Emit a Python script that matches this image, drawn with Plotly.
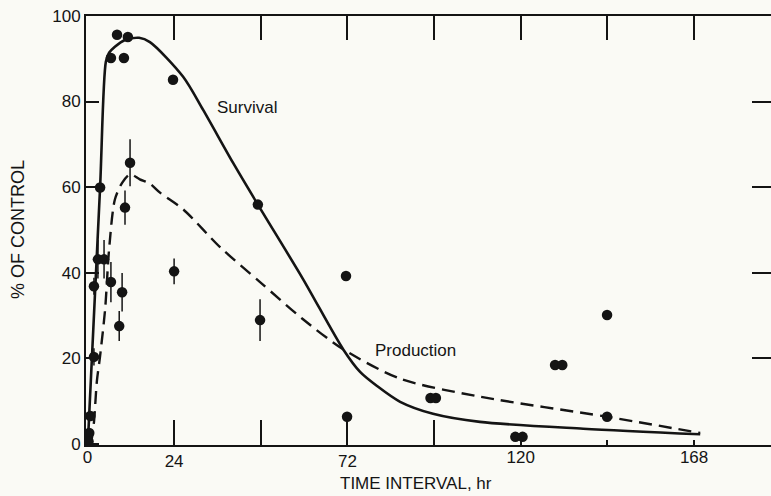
import plotly.graph_objects as go

# ---- data ----
survival_x = [0.1, 3.5, 5.1, 6.0, 7.6, 10.4, 14.3, 17.3, 26.5, 32.0, 40.3, 47.2, 59.7, 70.8, 75.5, 80.2, 86.6, 95.7, 108.7, 137.3, 169.7]
survival_y = [0.0, 59.9, 89.3, 91.4, 92.8, 94.4, 94.9, 93.9, 85.8, 78.1, 65.7, 55.9, 38.5, 22.1, 16.8, 13.5, 9.8, 7.0, 5.1, 3.5, 2.2]

production_x = [1.0, 1.8, 2.6, 3.5, 4.9, 6.0, 7.6, 9.6, 11.8, 14.5, 17.3, 20.1, 26.5, 36.8, 47.8, 59.7, 70.8, 86.6, 108.7, 143.9, 169.7]
production_y = [0.0, 5.0, 14.5, 20.5, 31.5, 45.5, 57.1, 61.0, 63.0, 61.8, 60.8, 58.7, 54.8, 45.9, 37.8, 29.1, 22.1, 15.2, 11.0, 6.3, 2.5]

points_x = [8.2, 11.2, 6.5, 10.1, 23.7, 47.2, 71.6, 71.9, 95.0, 96.5, 118.5, 120.5, 129.5, 131.5, 143.9, 143.9, 3.5, 0.8, 0.5, 0.3]
points_y = [95.6, 95.1, 90.2, 90.2, 85.1, 55.9, 39.2, 6.3, 10.7, 10.7, 1.6, 1.6, 18.4, 18.4, 30.1, 6.3, 59.9, 6.5, 2.5, 0.5]

errpts_x = [11.8, 10.4, 2.9, 4.6, 6.5, 1.8, 9.6, 8.8, 1.8, 24.0, 47.8]
errpts_y = [65.7, 55.2, 43.1, 43.1, 37.8, 36.8, 35.4, 27.5, 20.3, 40.3, 28.9]
errpts_e = [5.5, 4.0, 4.5, 4.5, 4.7, 2.0, 4.5, 3.5, 2.0, 3.0, 4.9]

x_label_vals = [24, 48, 72, 96]
x_label_text = ["24", "", "72", ""]
x_label_vals2 = [0, 120, 144, 168]
x_label_text2 = ["0", "120", "", "168"]
top_ticks = [24, 48, 72, 96, 120, 144, 168]
y_ticks = [0, 20, 40, 60, 80, 100]
right_ticks = [20, 40, 60, 80]

XR = [-0.4, 189.3]
YR = [-0.3, 100]
INK = "#141414"
BG = "#fafaf5"
FONT = "Liberation Sans, Arial, Helvetica, sans-serif"

fig = go.Figure()

fig.add_trace(go.Scatter(x=survival_x, y=survival_y, mode="lines",
                         line=dict(color=INK, width=2.6, shape="spline", smoothing=0.8),
                         showlegend=False, hoverinfo="skip"))
fig.add_trace(go.Scatter(x=production_x, y=production_y, mode="lines",
                         line=dict(color=INK, width=2.4, shape="spline", smoothing=0.8, dash="13px,7px"),
                         showlegend=False, hoverinfo="skip"))
fig.add_trace(go.Scatter(x=points_x, y=points_y, mode="markers",
                         marker=dict(color=INK, size=10.5),
                         showlegend=False))
fig.add_trace(go.Scatter(x=errpts_x, y=errpts_y, mode="markers",
                         marker=dict(color=INK, size=10.5),
                         error_y=dict(type="data", array=errpts_e, visible=True,
                                      color=INK, thickness=1.5, width=0),
                         showlegend=False))
# carriers for the extra axes
fig.add_trace(go.Scatter(x=[None], y=[None], xaxis="x2", yaxis="y2", showlegend=False, hoverinfo="skip"))
fig.add_trace(go.Scatter(x=[None], y=[None], xaxis="x3", yaxis="y", showlegend=False, hoverinfo="skip"))

axis_common = dict(showgrid=False, zeroline=False, tickcolor=INK, tickwidth=1.6,
                   tickfont=dict(family=FONT, size=17, color=INK))

fig.update_layout(
    width=771, height=496,
    margin=dict(l=86, r=0, t=16, b=51),
    paper_bgcolor=BG, plot_bgcolor=BG,
    font=dict(family=FONT, color=INK),
    xaxis=dict(range=XR, showline=True, linecolor=INK, linewidth=2,
               ticks="inside", ticklen=25, tickvals=x_label_vals, ticktext=x_label_text,
               **axis_common),
    xaxis3=dict(range=XR, overlaying="x", anchor="y", side="bottom", showline=False,
                ticks="inside", ticklen=5, tickvals=x_label_vals2, ticktext=x_label_text2,
                **axis_common),
    xaxis2=dict(range=XR, overlaying="x", anchor="y2", side="top", showline=True,
                linecolor=INK, linewidth=2, ticks="inside", ticklen=24,
                tickvals=top_ticks, showticklabels=False, **axis_common),
    yaxis=dict(range=YR, showline=True, linecolor=INK, linewidth=2,
               ticks="inside", ticklen=13, tickvals=y_ticks,
               ticktext=[str(v) for v in y_ticks], **axis_common),
    yaxis2=dict(range=YR, overlaying="y", anchor="x2", side="right", showline=False,
                ticks="inside", ticklen=19, tickvals=right_ticks,
                showticklabels=False, **axis_common),
    annotations=[
        dict(text="Survival", x=35.3, y=78.6, xref="x", yref="y", xanchor="left",
             yanchor="middle", showarrow=False, font=dict(family=FONT, size=17, color=INK)),
        dict(text="Production", x=79.1, y=21.7, xref="x", yref="y", xanchor="left",
             yanchor="middle", showarrow=False, font=dict(family=FONT, size=17, color=INK)),
        dict(text="TIME INTERVAL, hr", x=(338 - 86) / 685, y=-0.09, xref="paper", yref="paper",
             xanchor="left", yanchor="middle", showarrow=False,
             font=dict(family=FONT, size=17, color=INK)),
        dict(text="% OF CONTROL", x=(18 - 86) / 685, y=0.501, xref="paper", yref="paper",
             xanchor="center", yanchor="middle", textangle=-90, showarrow=False,
             font=dict(family=FONT, size=18, color=INK)),
    ],
)

fig.write_html("out.html", config={"displayModeBar": False},
               post_script="document.body.style.margin='0px';document.body.style.overflow='hidden';")
